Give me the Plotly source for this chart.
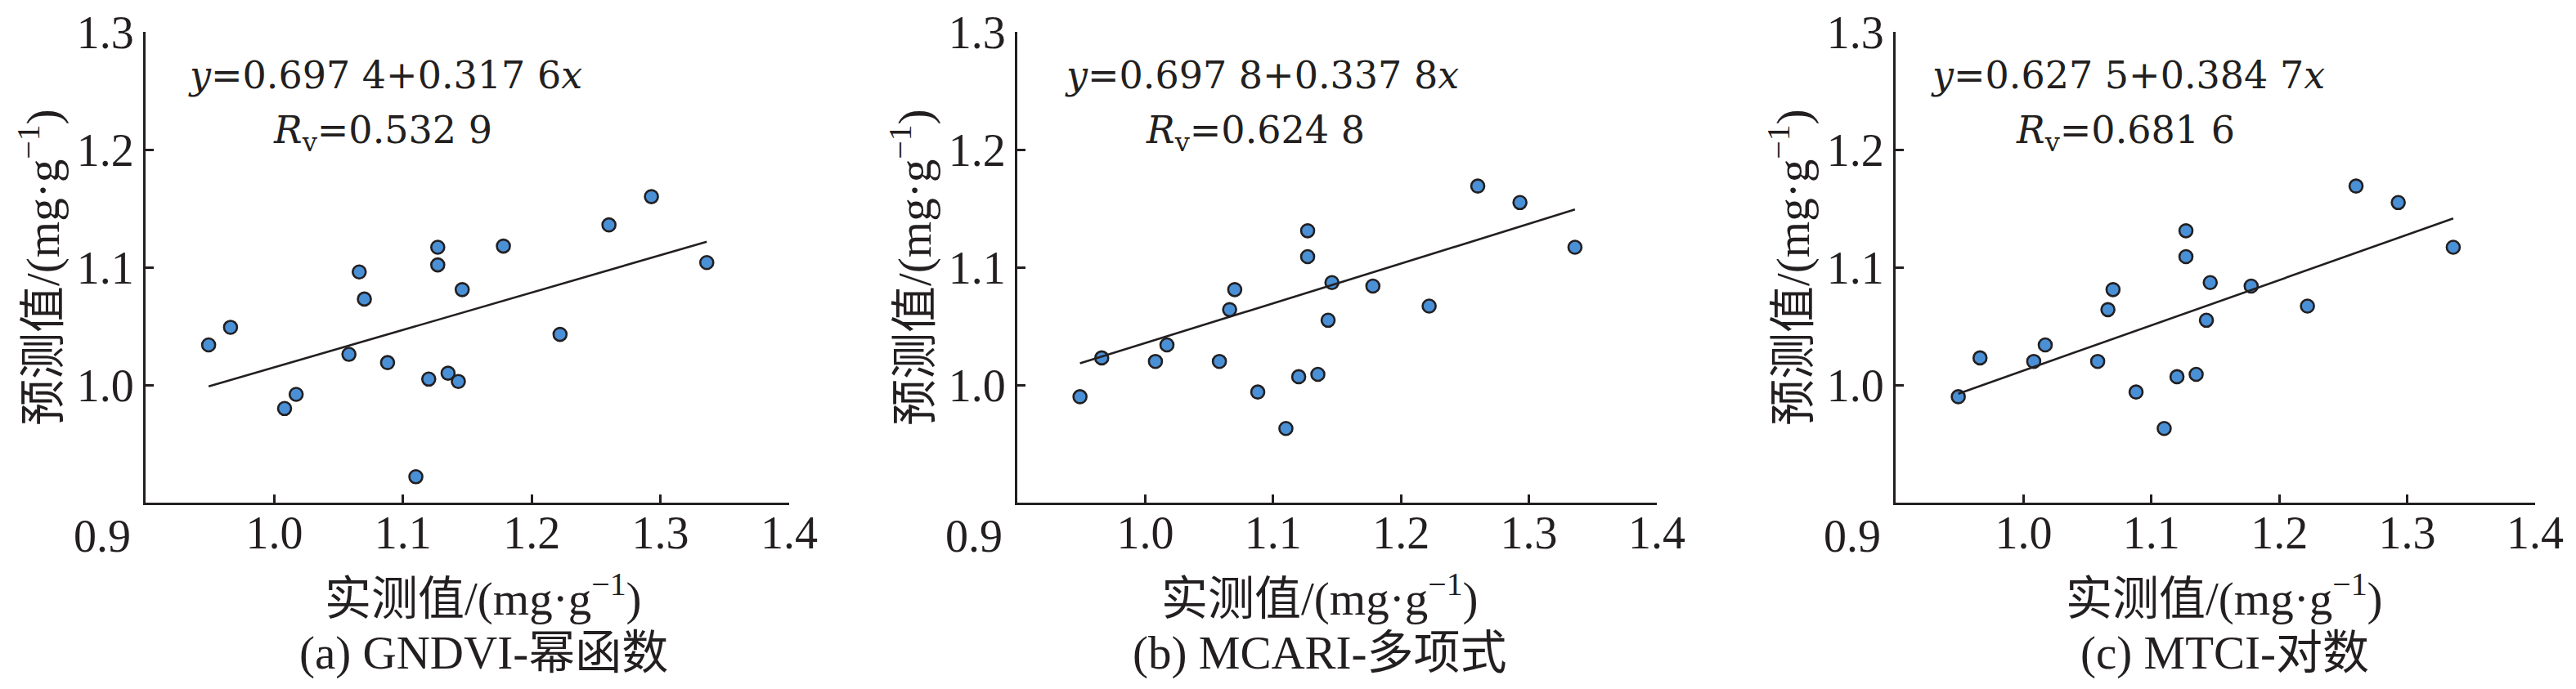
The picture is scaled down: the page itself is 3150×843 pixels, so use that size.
import plotly.graph_objects as go

# measured values (same for all three panels), mg/g
measured = [0.949, 0.966, 1.008, 1.017, 1.058, 1.066, 1.070, 1.088, 1.110, 1.120,
            1.127, 1.127, 1.135, 1.143, 1.146, 1.178, 1.222, 1.260, 1.293, 1.336]

# predicted values
pred_a = [1.034, 1.049, 0.980, 0.992, 1.026, 1.096, 1.073, 1.019, 0.922, 1.005,
          1.117, 1.102, 1.010, 1.003, 1.081, 1.118, 1.043, 1.136, 1.160, 1.104]
pred_b = [0.990, 1.023, 1.020, 1.034, 1.020, 1.064, 1.081, 0.994, 0.963, 1.007,
          1.131, 1.109, 1.009, 1.055, 1.087, 1.084, 1.067, 1.169, 1.155, 1.117]
pred_c = [0.990, 1.023, 1.020, 1.034, 1.020, 1.064, 1.081, 0.994, 0.963, 1.007,
          1.131, 1.109, 1.009, 1.055, 1.087, 1.084, 1.067, 1.169, 1.155, 1.117]

intercepts = [0.6974, 0.6978, 0.6275]
slopes = [0.3176, 0.3378, 0.3847]
rv_values = [0.5329, 0.6248, 0.6816]
captions = ["(a) GNDVI-幂函数", "(b) MCARI-多项式", "(c) MTCI-对数"]

x_ticks = [1.0, 1.1, 1.2, 1.3, 1.4]
y_ticks = [1.0, 1.1, 1.2, 1.3]

W, H = 3150, 843
# axis pixel extents per panel (left, right) and shared top/bottom
panel_px = [(178, 965), (1244, 2026), (2318, 3100)]
title_cx = [591, 1614, 2720]
eq_off = [(50, 154), (56, 155), (41, 145)]
top_px, bot_px = 39, 615

FONT = "Liberation Serif, Times New Roman, Noto Sans CJK SC"
EQ_FONT = "DejaVu Serif"  # wider serif to mimic the stretched equation text
INK = "#231f20"


def spaced(v):
    s = f"{v:.4f}"
    return s[:-1] + " " + s[-1]


fig = go.Figure()
preds = [pred_a, pred_b, pred_c]

for i in range(3):
    xa = "x" if i == 0 else f"x{i + 1}"
    ya = "y" if i == 0 else f"y{i + 1}"
    fig.add_trace(go.Scatter(
        x=measured, y=preds[i], mode="markers", xaxis=xa, yaxis=ya,
        marker=dict(size=16, color="#4a90d6", line=dict(color=INK, width=2.6)),
        showlegend=False))
    x0, x1 = min(measured), max(measured)
    fig.add_trace(go.Scatter(
        x=[x0, x1], y=[intercepts[i] + slopes[i] * x0, intercepts[i] + slopes[i] * x1],
        mode="lines", xaxis=xa, yaxis=ya, line=dict(color=INK, width=2.6),
        showlegend=False))

    l, r = panel_px[i]
    axis_common = dict(showline=True, linecolor=INK, linewidth=3, ticks="inside",
                       ticklen=10, tickwidth=3, tickcolor=INK, showgrid=False,
                       zeroline=False, automargin=False,
                       tickfont=dict(family=FONT, size=56, color=INK))
    fig.update_layout(**{
        ("xaxis" if i == 0 else f"xaxis{i + 1}"): dict(
            domain=[l / W, r / W], range=[0.9, 1.4], tickvals=x_ticks,
            ticktext=[f"{t:.1f}" for t in x_ticks], anchor=ya,
            ticklabelstandoff=-14, **axis_common),
        ("yaxis" if i == 0 else f"yaxis{i + 1}"): dict(
            domain=[1 - bot_px / H, 1 - top_px / H], range=[0.9, 1.3], tickvals=y_ticks,
            ticktext=[f"{t:.1f}" for t in y_ticks], anchor=xa, **axis_common),
    })

    # corner label 0.9
    fig.add_annotation(x=0.9, y=0.9, xref=xa, yref=ya, text="0.9", showarrow=False,
                       xanchor="right", yanchor="top", xshift=-16, yshift=-8,
                       font=dict(family=FONT, size=56, color=INK))
    # equation and Rv
    fig.add_annotation(x=(l + eq_off[i][0]) / W, y=1 - 92 / H, xref="paper", yref="paper",
                       text=f"<i>y</i>={spaced(intercepts[i])}+{spaced(slopes[i])}<i>x</i>",
                       showarrow=False, xanchor="left", yanchor="middle",
                       font=dict(family=EQ_FONT, size=46, color=INK))
    fig.add_annotation(x=(l + eq_off[i][1]) / W, y=1 - 162 / H, xref="paper", yref="paper",
                       text=f"<i>R</i><sub>v</sub>={spaced(rv_values[i])}",
                       showarrow=False, xanchor="left", yanchor="middle",
                       font=dict(family=EQ_FONT, size=46, color=INK))
    # axis titles
    fig.add_annotation(x=title_cx[i] / W, y=1 - 728 / H, xref="paper", yref="paper",
                       text="实测值/(mg·g<sup>−1</sup>)", showarrow=False,
                       xanchor="center", yanchor="middle",
                       font=dict(family=FONT, size=57, color=INK))
    fig.add_annotation(x=(l - 130) / W, y=1 - 327 / H, xref="paper", yref="paper",
                       text="预测值/(mg·g<sup>−1</sup>)", showarrow=False, textangle=-90,
                       xanchor="center", yanchor="middle",
                       font=dict(family=FONT, size=57, color=INK))
    # caption
    fig.add_annotation(x=title_cx[i] / W, y=1 - 799 / H, xref="paper", yref="paper",
                       text=captions[i], showarrow=False, xanchor="center", yanchor="middle",
                       font=dict(family=FONT, size=57, color=INK))

fig.update_layout(width=W, height=H, margin=dict(l=0, r=0, t=0, b=0),
                  paper_bgcolor="white", plot_bgcolor="white")

# pin the graph to the top-left corner of the page so nothing pushes it down
pin = ("document.body.style.margin='0';document.body.style.overflow='hidden';"
       "var gd=document.getElementById('{plot_id}');"
       "gd.style.position='fixed';gd.style.top='0';gd.style.left='0';")
fig.write_html("out.html", post_script=pin, config={"displayModeBar": False})
